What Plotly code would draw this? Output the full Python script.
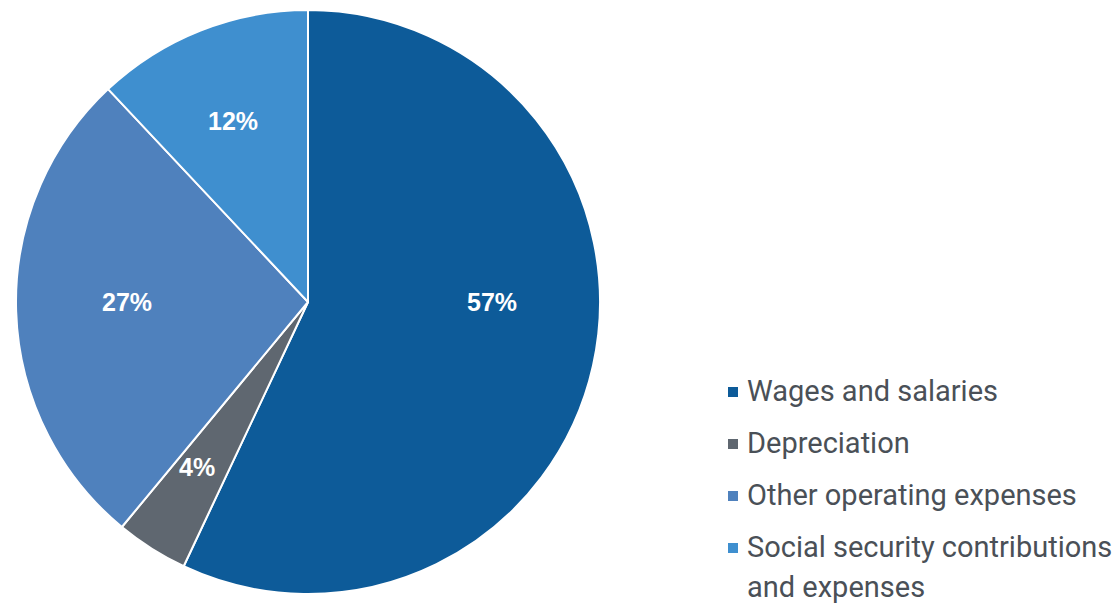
import math
import plotly.graph_objects as go

# Cost structure shares (percent)
categories = [
    "Wages and salaries",
    "Depreciation",
    "Other operating expenses",
    "Social security contributions<br>and expenses",
]
shares = [57, 4, 27, 12]
colors = ["#0D5B99", "#5F6770", "#4F81BD", "#3F8FCF"]

W, H = 1120, 605
cx, cy, r = 308, 302, 292

# Slice labels: radial distance (fraction of radius) and angular nudge (deg)
label_radius = [0.63, 0.68, 0.62, 0.67]
label_nudge = [-12.6, 1.6, 1.8, -0.8]

fig = go.Figure(
    go.Pie(
        labels=[c.replace("<br>", " ") for c in categories],
        values=shares,
        sort=False,
        direction="clockwise",
        rotation=0,
        marker=dict(colors=colors, line=dict(color="white", width=2)),
        textinfo="none",
        hoverinfo="label+percent",
        showlegend=False,
        domain=dict(
            x=[(cx - r) / W, (cx + r) / W],
            y=[(H - cy - r) / H, (H - cy + r) / H],
        ),
    )
)

annotations = []
shapes = []

# Percentage labels, placed at each slice's mid-angle
total = sum(shares)
cum = 0.0
for i, v in enumerate(shares):
    mid = (cum + v / 2) / total * 360 + label_nudge[i]
    cum += v
    d = label_radius[i] * r
    px = cx + d * math.sin(math.radians(mid))
    py = cy - d * math.cos(math.radians(mid))
    annotations.append(dict(
        x=px / W, y=1 - py / H, xref="paper", yref="paper",
        text=f"<b>{v}%</b>", showarrow=False,
        xanchor="center", yanchor="middle",
        font=dict(family="Liberation Sans, Arial, sans-serif", size=25, color="white"),
    ))

# Legend drawn at the right
leg_x, leg_y0, leg_step, leg_line = 748, 391, 52, 40
leg_font = dict(family="Roboto, Noto Sans, sans-serif", size=29, color="#4A5057")
for i, (name, col) in enumerate(zip(categories, colors)):
    yc = leg_y0 + i * leg_step
    shapes.append(dict(
        type="rect", xref="paper", yref="paper",
        x0=728 / W, x1=738 / W,
        y0=1 - (yc + 6) / H, y1=1 - (yc - 4) / H,
        fillcolor=col, line=dict(width=0),
    ))
    for j, line in enumerate(name.split("<br>")):
        annotations.append(dict(
            x=(leg_x - 2) / W, y=1 - (yc + j * leg_line) / H,
            xref="paper", yref="paper",
            text=line, showarrow=False,
            xanchor="left", yanchor="middle",
            borderpad=0,
            font=leg_font,
        ))

fig.update_layout(
    width=W,
    height=H,
    margin=dict(l=0, r=0, t=0, b=0),
    paper_bgcolor="white",
    plot_bgcolor="white",
    annotations=annotations,
    shapes=shapes,
)

fig.write_html("out.html")
